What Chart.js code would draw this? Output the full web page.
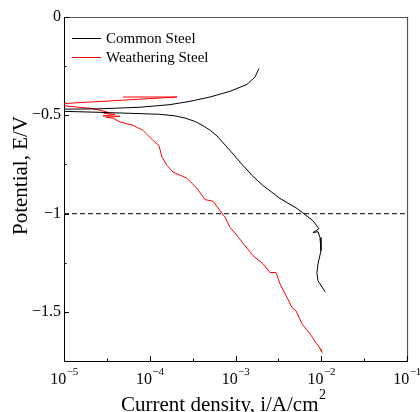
<!DOCTYPE html>
<html>
<head>
<meta charset="utf-8">
<script src="https://cdn.jsdelivr.net/npm/chart.js@4.4.0/dist/chart.umd.min.js"></script>
<style>
  html, body { margin: 0; padding: 0; background: #fff; }
  canvas { display: block; }
</style>
</head>
<body>
<canvas id="grafico" width="420" height="412"></canvas>
<script>
// curvas de polarizacao (corrente em A/cm2, potencial em V)
const comumI = [1.88e-3, 1.69e-3, 1.36e-3, 8.63e-4, 5.05e-4, 2.95e-4, 1.72e-4, 7.7e-5, 2.63e-5, 1e-5, 8e-6,
  1e-5, 2.63e-5, 5.89e-5, 1.32e-4, 1.97e-4, 2.58e-4, 3.4e-4, 4.18e-4, 5.1e-4, 6.08e-4, 8.63e-4, 1.22e-3, 1.56e-3, 2.09e-3,
  3.30e-3, 5.21e-3, 6.46e-3, 8.0e-3, 9.4e-3, 8.0e-3, 9.17e-3, 9.67e-3, 9.93e-3, 9.17e-3, 8.9e-3, 9.17e-3, 1.11e-2];
const comumE = [-0.262, -0.305, -0.343, -0.378, -0.407, -0.429, -0.446, -0.459, -0.467, -0.469, -0.474,
  -0.480, -0.485, -0.490, -0.495, -0.503, -0.514, -0.532, -0.553, -0.577, -0.605, -0.679, -0.755, -0.806, -0.857,
  -0.923, -0.974, -1.005, -1.036, -1.077, -1.097, -1.092, -1.122, -1.189, -1.255, -1.301, -1.342, -1.398];

const patinavelI = [4.88e-5, 2.08e-4, 1.0e-4, 2.63e-5, 1e-5, 7e-6, 1e-5, 2.01e-5, 2.63e-5, 3.26e-5, 2.93e-5,
  3.93e-5, 2.85e-5, 4.5e-5, 3.09e-5, 3.73e-5, 4.5e-5, 6.38e-5, 8.34e-5, 1.09e-4, 1.28e-4, 1.39e-4, 1.59e-4,
  1.87e-4, 2.72e-4, 3.56e-4, 4.41e-4, 5.47e-4, 6.6e-4, 7.55e-4, 8.63e-4, 1.04e-3, 1.29e-3, 1.6e-3, 2.09e-3,
  2.52e-3, 2.97e-3, 3.3e-3, 3.99e-3, 4.56e-3, 5.08e-3, 5.96e-3, 7.39e-3, 8.9e-3, 1.02e-2, 9.7e-3, 1.03e-2];
const patinavelE = [-0.407, -0.407, -0.415, -0.430, -0.440, -0.444, -0.452, -0.464, -0.474, -0.485, -0.490,
  -0.495, -0.503, -0.505, -0.510, -0.515, -0.534, -0.551, -0.577, -0.628, -0.654, -0.713, -0.755,
  -0.789, -0.821, -0.872, -0.929, -0.937, -0.985, -1.019, -1.070, -1.112, -1.163, -1.214, -1.255,
  -1.300, -1.300, -1.357, -1.427, -1.478, -1.495, -1.561, -1.612, -1.663, -1.699, -1.690, -1.708];

// linha tracejada em -1 V
const refI = [1e-5, 1e-1];
const refE = [-1, -1];

// eixos
const xTicks = [1e-5, 1e-4, 1e-3, 1e-2, 1e-1];
const xExpoentes = ['\u22125', '\u22124', '\u22123', '\u22122', '\u22121'];
const xMenores = [3.16e-5, 3.16e-4, 3.16e-3, 3.16e-2];
const yTicks = [0, -0.5, -1, -1.5];
const yMenores = [-0.25, -0.75, -1.25];

const nomes = ['Common Steel', 'Weathering Steel'];
const fonte = '"Liberation Serif", "Times New Roman", serif';

const pontos = (xs, ys) => xs.map((x, i) => ({ x: x, y: ys[i] }));

const enfeites = {
  id: 'enfeites',
  afterDraw(chart) {
    const ctx = chart.ctx;
    const a = chart.chartArea;
    const sx = chart.scales.x;
    const sy = chart.scales.y;
    ctx.save();

    // moldura superior e direita
    ctx.strokeStyle = '#555';
    ctx.lineWidth = 1.2;
    ctx.beginPath();
    ctx.moveTo(a.left, a.top + 0.5);
    ctx.lineTo(a.right + 0.5, a.top + 0.5);
    ctx.lineTo(a.right + 0.5, a.bottom);
    ctx.stroke();

    // marcas para dentro
    ctx.strokeStyle = '#000';
    ctx.lineWidth = 1;
    ctx.beginPath();
    xTicks.forEach(v => { const p = Math.round(sx.getPixelForValue(v)) + 0.5; ctx.moveTo(p, a.bottom); ctx.lineTo(p, a.bottom - 5); });
    xMenores.forEach(v => { const p = Math.round(sx.getPixelForValue(v)) + 0.5; ctx.moveTo(p, a.bottom); ctx.lineTo(p, a.bottom - 2.5); });
    yTicks.forEach(v => { const p = Math.round(sy.getPixelForValue(v)) + 0.5; ctx.moveTo(a.left, p); ctx.lineTo(a.left + 5, p); });
    yMenores.forEach(v => { const p = Math.round(sy.getPixelForValue(v)) + 0.5; ctx.moveTo(a.left, p); ctx.lineTo(a.left + 2.5, p); });
    ctx.stroke();

    // rotulos do eixo x com expoente
    ctx.fillStyle = '#000';
    ctx.textBaseline = 'alphabetic';
    xTicks.forEach((v, i) => {
      const p = sx.getPixelForValue(v);
      ctx.font = '16px ' + fonte;
      const wBase = ctx.measureText('10').width;
      ctx.font = '11px ' + fonte;
      const wExp = ctx.measureText(xExpoentes[i]).width;
      const x0 = p - (wBase + wExp) / 2;
      ctx.textAlign = 'left';
      ctx.font = '16px ' + fonte;
      ctx.fillText('10', x0, a.bottom + 23);
      ctx.font = '11px ' + fonte;
      ctx.fillText(xExpoentes[i], x0 + wBase + 0.5, a.bottom + 14);
    });

    // titulos dos eixos
    ctx.font = '21px ' + fonte;
    ctx.textAlign = 'left';
    const tx = 'Current density, i/A/cm';
    ctx.fillText(tx, 121, 410.5);
    const wTx = ctx.measureText(tx).width;
    ctx.font = '14px ' + fonte;
    ctx.fillText('2', 121 + wTx + 0.5, 399);

    ctx.save();
    ctx.translate(27, 175.5);
    ctx.rotate(-Math.PI / 2);
    ctx.font = '21px ' + fonte;
    ctx.textAlign = 'center';
    ctx.fillText('Potential, E/V', 0, 0);
    ctx.restore();

    // legenda dentro da area
    ctx.font = '15px ' + fonte;
    ctx.textAlign = 'left';
    ctx.textBaseline = 'middle';
    nomes.forEach((nome, i) => {
      const y = 38 + i * 19;
      ctx.strokeStyle = chart.data.datasets[i].borderColor;
      ctx.lineWidth = 1;
      ctx.beginPath();
      ctx.moveTo(72, y + 0.5);
      ctx.lineTo(101, y + 0.5);
      ctx.stroke();
      ctx.fillStyle = '#000';
      ctx.fillText(nome, 106, y + 1);
    });
    ctx.restore();
  }
};

new Chart(document.getElementById('grafico'), {
  type: 'scatter',
  data: {
    datasets: [
      { label: nomes[0], data: pontos(comumI, comumE), borderColor: '#000', borderWidth: 1, showLine: true, pointRadius: 0, tension: 0 },
      { label: nomes[1], data: pontos(patinavelI, patinavelE), borderColor: '#f00', borderWidth: 1, showLine: true, pointRadius: 0, tension: 0 },
      { label: 'ref', data: pontos(refI, refE), borderColor: '#333', borderWidth: 1.3, borderDash: [5, 3], showLine: true, pointRadius: 0 }
    ]
  },
  plugins: [enfeites],
  options: {
    responsive: false,
    animation: false,
    devicePixelRatio: 1,
    layout: { padding: { top: 17, right: 13, left: 0, bottom: 0 } },
    plugins: { legend: { display: false }, tooltip: { enabled: false } },
    scales: {
      x: {
        type: 'logarithmic',
        min: 1e-5,
        max: 1e-1,
        grid: { display: false, drawTicks: false },
        border: { display: true, color: '#000', width: 1 },
        ticks: { display: false },
        afterFit: s => { s.height = 51; }
      },
      y: {
        type: 'linear',
        min: -1.75,
        max: 0,
        grid: { display: false, drawTicks: false },
        border: { display: true, color: '#000', width: 1 },
        afterBuildTicks: s => { s.ticks = yTicks.map(v => ({ value: v })); },
        ticks: {
          padding: 3,
          color: '#000',
          font: { family: fonte, size: 16 },
          callback: v => v === 0 ? '0' : '\u2212' + String(Math.abs(v))
        },
        afterFit: s => { s.width = 64; }
      }
    }
  }
});
</script>
</body>
</html>
